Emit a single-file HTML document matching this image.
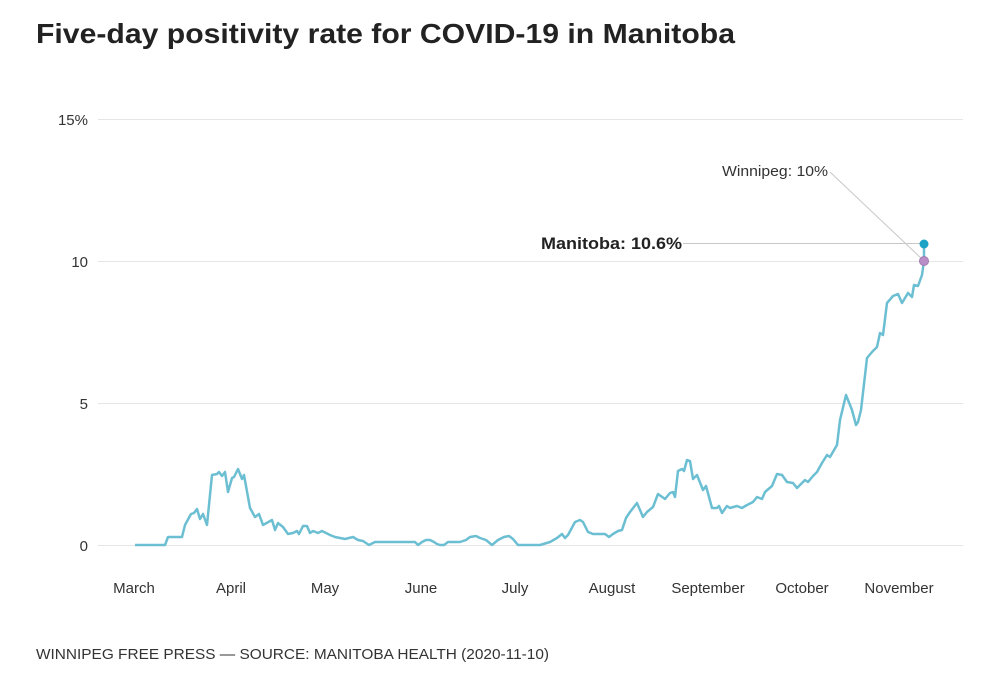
<!DOCTYPE html>
<html><head><meta charset="utf-8"><style>
body{margin:0;background:#fff;width:1000px;height:692px;overflow:hidden;font-family:"Liberation Sans",sans-serif}
</style></head><body>
<svg width="1000" height="692" xmlns="http://www.w3.org/2000/svg" font-family="Liberation Sans, sans-serif">
<text x="36" y="43" font-size="28" font-weight="bold" fill="#222" textLength="699" lengthAdjust="spacingAndGlyphs">Five-day positivity rate for COVID-19 in Manitoba</text>
<g stroke="#e6e6e6" stroke-width="1">
<line x1="98" y1="119.5" x2="963" y2="119.5"/>
<line x1="98" y1="261.5" x2="963" y2="261.5"/>
<line x1="98" y1="403.5" x2="963" y2="403.5"/>
<line x1="98" y1="545.5" x2="963" y2="545.5"/>
</g>
<g font-size="15" fill="#333" text-anchor="end">
<text x="88" y="125">15%</text><text x="88" y="267">10</text><text x="88" y="409">5</text><text x="88" y="551">0</text>
</g>
<g font-size="15" fill="#333" text-anchor="middle">
<text x="134" y="593">March</text><text x="231" y="593">April</text><text x="325" y="593">May</text><text x="421" y="593">June</text><text x="515" y="593">July</text><text x="612" y="593">August</text><text x="708" y="593">September</text><text x="802" y="593">October</text><text x="899" y="593">November</text>
</g>
<polyline fill="none" stroke="#6cbfd2" stroke-width="2.5" stroke-linejoin="round" points="135,545 165,545 168,537 182,537 185,525 191,514 194,513 197,509 200,519 203,514 207,525 212,475 217,474 219,472 222,476 225,472 228,492 232,478 234,477 238,469 242,479 244,475 250,508 255,517 259,514 263,525 272,520 275,530 278,523 283,527 288,534 293,533 297,531 299,534 303,526 307,526 310,533 313,531 318,533 322,531 330,535 335,537 340,538 345,539 353,537 358,540 363,541 369,545 375,542 415,542 418,545 422,542 426,540 430,540 434,542 437,544 440,545 444,545 448,542 460,542 466,540 470,537 476,536 480,538 486,540 492,545 498,540 504,537 509,536 513,539 518,545 540,545 550,542 557,538 562,534 565,538 568,535 575,522 580,520 583,522 588,532 593,534 605,534 609,537 613,534 618,531 622,530 626,518 630,512 637,503 643,517 647,512 653,507 658,494 665,499 670,493 673,492 675,497 678,471 682,469 684,471 687,460 690,461 693,479 697,475 703,490 706,486 712,508 717,508 719,506 722,513 727,506 730,508 737,506 742,508 747,505 753,502 757,497 762,499 765,492 772,486 777,474 782,475 787,482 793,483 797,488 805,480 808,482 813,476 817,472 822,463 827,455 830,457 837,445 840,420 846,395 852,410 856,425 858,422 861,410 867,358 872,352 877,347 880,333 883,335 887,303 893,296 898,294 902,303 908,293 912,297 914,285 918,286 922,275 923,268 924,261 924,244"/>
<line x1="683" y1="243.5" x2="924" y2="243.5" stroke="#c8c8c8" stroke-width="1"/>
<line x1="830" y1="172" x2="924" y2="261" stroke="#c8c8c8" stroke-width="1"/>
<circle cx="924" cy="244" r="4.5" fill="#1aa3c4"/>
<circle cx="924" cy="261" r="4.5" fill="#b98ec6" stroke="#a07ab0" stroke-width="1"/>
<text x="722" y="176" font-size="15" fill="#333" textLength="106" lengthAdjust="spacingAndGlyphs">Winnipeg: 10%</text>
<text x="541" y="249" font-size="17" font-weight="bold" fill="#222" textLength="141" lengthAdjust="spacingAndGlyphs">Manitoba: 10.6%</text>
<text x="36" y="659" font-size="15" fill="#333" textLength="513" lengthAdjust="spacingAndGlyphs">WINNIPEG FREE PRESS — SOURCE: MANITOBA HEALTH (2020-11-10)</text>
</svg>
</body></html>
